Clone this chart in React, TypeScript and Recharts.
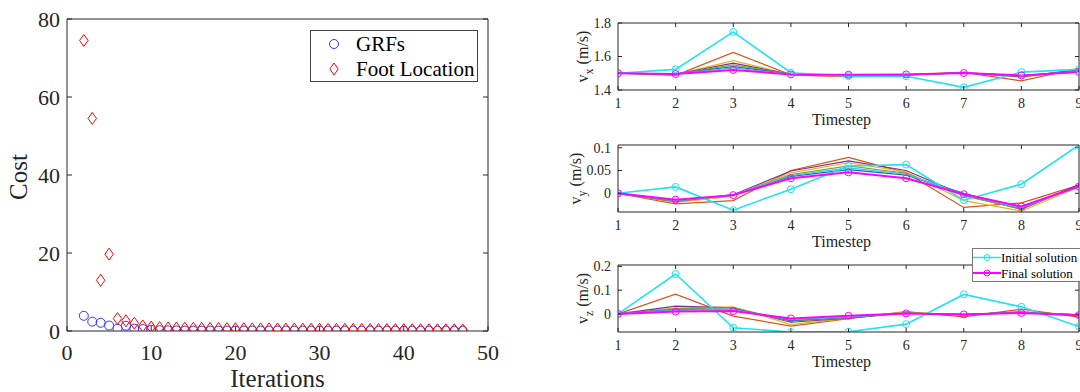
import React from "react";
import {
  ScatterChart,
  Scatter,
  LineChart,
  Line,
  XAxis,
  YAxis,
  Legend,
} from "recharts";

// ---- left panel: cost per iteration ----
const iterations = [
  2, 3, 4, 5, 6, 7, 8, 9, 10, 11, 12, 13, 14, 15, 16, 17, 18, 19, 20, 21, 22, 23, 24,
  25, 26, 27, 28, 29, 30, 31, 32, 33, 34, 35, 36, 37, 38, 39, 40, 41, 42, 43, 44, 45,
  46, 47,
];
const grfCost = [
  3.9, 2.4, 2.1, 1.4, 0.6, 1.35, 0.6, 0.5, 0.3, 0.2, 0.15, 0.12, 0.1, 0.1, 0.1, 0.1,
  0.1, 0.1, 0.1, 0.1, 0.1, 0.1, 0.1, 0.1, 0.1, 0.1, 0.1, 0.1, 0.1, 0.1, 0.1, 0.1, 0.1,
  0.1, 0.1, 0.1, 0.1, 0.1, 0.1, 0.1, 0.1, 0.1, 0.1, 0.1, 0.1, 0.1,
];
const footCost = [
  74.5, 54.5, 13.0, 19.7, 3.2, 2.6, 2.0, 1.3, 1.0, 0.85, 0.8, 0.75, 0.72, 0.7, 0.68,
  0.66, 0.64, 0.62, 0.6, 0.58, 0.56, 0.55, 0.53, 0.52, 0.5, 0.49, 0.48, 0.46, 0.45,
  0.44, 0.43, 0.42, 0.41, 0.4, 0.39, 0.38, 0.37, 0.36, 0.35, 0.34, 0.33, 0.32, 0.31,
  0.3, 0.28, 0.26,
];
const costXTicks = [0, 10, 20, 30, 40, 50];
const costYTicks = [0, 20, 40, 60, 80];

// ---- right panels: velocities per timestep ----
const timesteps = [1, 2, 3, 4, 5, 6, 7, 8, 9];
const stepTicks = [1, 2, 3, 4, 5, 6, 7, 8, 9];

const vxInitial = [1.5, 1.523, 1.747, 1.503, 1.483, 1.482, 1.416, 1.507, 1.523];
const vxIterates = [
  [1.5, 1.487, 1.624, 1.49, 1.478, 1.488, 1.505, 1.454, 1.53],
  [1.5, 1.492, 1.575, 1.492, 1.482, 1.49, 1.507, 1.475, 1.525],
  [1.5, 1.494, 1.56, 1.493, 1.485, 1.49, 1.503, 1.48, 1.52],
  [1.5, 1.495, 1.55, 1.494, 1.487, 1.491, 1.502, 1.483, 1.515],
  [1.5, 1.496, 1.54, 1.494, 1.488, 1.492, 1.502, 1.485, 1.512],
  [1.5, 1.496, 1.532, 1.494, 1.489, 1.492, 1.501, 1.486, 1.51],
];
const vxFinal = [1.5, 1.495, 1.52, 1.493, 1.491, 1.493, 1.501, 1.487, 1.508];
const vxTicks = [1.4, 1.6, 1.8];

const vyInitial = [0, 0.014, -0.037, 0.009, 0.06, 0.063, -0.015, 0.02, 0.106];
const vyIterates = [
  [0, -0.023, -0.016, 0.05, 0.079, 0.045, -0.031, -0.021, 0.018],
  [0, -0.02, -0.006, 0.045, 0.067, 0.047, -0.016, -0.039, 0.014],
  [0, -0.018, -0.003, 0.049, 0.071, 0.05, -0.004, -0.035, 0.019],
  [0, -0.017, -0.004, 0.041, 0.06, 0.044, -0.006, -0.034, 0.017],
  [0, -0.016, -0.004, 0.037, 0.052, 0.04, 0.0, -0.033, 0.017],
  [0, -0.016, -0.004, 0.039, 0.056, 0.042, -0.003, -0.032, 0.016],
];
const vyFinal = [0, -0.014, -0.004, 0.033, 0.046, 0.033, -0.002, -0.029, 0.015];
const vyTicks = [0, 0.05, 0.1];

const vzInitial = [0, 0.168, -0.058, -0.076, -0.075, -0.043, 0.082, 0.03, -0.053];
const vzIterates = [
  [0, 0.083, -0.009, -0.051, -0.02, 0.01, -0.012, 0.02, -0.013],
  [0, 0.025, 0.03, -0.045, -0.018, 0.008, -0.005, 0.01, -0.006],
  [0, 0.033, 0.026, -0.035, -0.018, 0.004, -0.003, 0.008, -0.004],
  [0, 0.022, 0.027, -0.03, -0.016, 0.004, -0.003, 0.007, -0.004],
  [0, 0.018, 0.02, -0.027, -0.015, 0.003, -0.002, 0.006, -0.004],
  [0, 0.016, 0.018, -0.024, -0.013, 0.003, -0.002, 0.005, -0.004],
];
const vzFinal = [0, 0.01, 0.012, -0.019, -0.008, 0.002, -0.002, 0.004, -0.005];
const vzTicks = [0, 0.1, 0.2];

const iterColors = ["#D95319", "#EDB120", "#7E2F8E", "#77AC30", "#0072BD", "#4DBEEE"];
const CYAN = "#1fe2f2";
const MAGENTA = "#ff00ff";
const INK = "#262626";
const FONT = "'Liberation Serif', 'Times New Roman', serif";

const EmptyTick = () => <g />;

const Circle = (props: any) => (
  <circle cx={props.cx} cy={props.cy} r={4.5} fill="none" stroke="#3333ff" strokeWidth={1} />
);
const Diamond = (props: any) => {
  const { cx, cy } = props;
  return (
    <path
      d={`M${cx},${cy - 6} L${cx + 4.2},${cy} L${cx},${cy + 6} L${cx - 4.2},${cy} Z`}
      fill="none"
      stroke="#ff0000"
      strokeWidth={1}
    />
  );
};

function CostLegend() {
  return (
    <div
      style={{
        width: 166,
        height: 50,
        border: "1px solid #444",
        background: "#fff",
        fontFamily: FONT,
        fontSize: 21,
        color: "#000",
        position: "relative",
      }}
    >
      <svg width={30} height={50} style={{ position: "absolute", left: 8, top: 0 }}>
        <circle cx={15} cy={13} r={4.5} fill="none" stroke="#3333ff" />
        <path d="M15,32 L19.2,38 L15,44 L10.8,38 Z" fill="none" stroke="#ff0000" />
      </svg>
      <div style={{ position: "absolute", left: 45, top: 1, lineHeight: "24px" }}>GRFs</div>
      <div style={{ position: "absolute", left: 45, top: 26, lineHeight: "24px" }}>
        Foot Location
      </div>
    </div>
  );
}

function SolutionLegend() {
  return (
    <div
      style={{
        width: 120,
        height: 32,
        border: "1px solid #777",
        background: "#fff",
        fontFamily: FONT,
        fontSize: 13,
        color: "#000",
        position: "relative",
      }}
    >
      <svg width={30} height={32} style={{ position: "absolute", left: 0, top: 0 }}>
        <line x1={0} x2={28} y1={8.5} y2={8.5} stroke={CYAN} strokeWidth={1.5} />
        <circle cx={14} cy={8.5} r={3} fill="none" stroke={CYAN} />
        <line x1={0} x2={28} y1={24} y2={24} stroke={MAGENTA} strokeWidth={2} />
        <circle cx={14} cy={24} r={3} fill="none" stroke={MAGENTA} />
      </svg>
      <div style={{ position: "absolute", left: 28, top: 0, lineHeight: "17px" }}>
        Initial solution
      </div>
      <div style={{ position: "absolute", left: 28, top: 15.5, lineHeight: "17px" }}>
        Final solution
      </div>
    </div>
  );
}

function CostChart() {
  const grfData = iterations.map((it, i) => ({ x: it, y: grfCost[i] }));
  const footData = iterations.map((it, i) => ({ x: it, y: footCost[i] }));
  const tickStyle = { fill: INK, fontSize: 22, fontFamily: FONT };
  return (
    <ScatterChart width={500} height={392} margin={{ top: 18, right: 11, left: 27, bottom: 0 }}>
      <XAxis
        dataKey="x"
        type="number"
        domain={[0, 50]}
        ticks={costXTicks}
        allowDataOverflow
        height={61}
        tick={tickStyle}
        tickSize={-5}
        tickMargin={18}
        axisLine={{ stroke: INK }}
        tickLine={{ stroke: INK }}
        label={{
          content: (p: any) => (
            <text
              x={p.viewBox.x + p.viewBox.width / 2}
              y={p.viewBox.y + 56}
              textAnchor="middle"
              fontFamily={FONT}
              fontSize={25}
              fill={INK}
            >
              Iterations
            </text>
          ),
        }}
      />
      <XAxis
        xAxisId="top"
        orientation="top"
        type="number"
        domain={[0, 50]}
        ticks={costXTicks}
        allowDataOverflow
        height={1}
        tick={EmptyTick}
        tickSize={-5}
        axisLine={{ stroke: INK }}
        tickLine={{ stroke: INK }}
      />
      <YAxis
        dataKey="y"
        type="number"
        domain={[0, 80]}
        ticks={costYTicks}
        allowDataOverflow
        width={40}
        tick={tickStyle}
        tickSize={-5}
        tickMargin={12}
        axisLine={{ stroke: INK }}
        tickLine={{ stroke: INK }}
        label={{
          content: (p: any) => {
            const bx = 27;
            const cy = p.viewBox.y + p.viewBox.height / 2 + 2;
            return (
              <text
                x={bx}
                y={cy}
                transform={`rotate(-90 ${bx} ${cy})`}
                textAnchor="middle"
                fontFamily={FONT}
                fontSize={25}
                fill={INK}
              >
                Cost
              </text>
            );
          },
        }}
      />
      <YAxis
        yAxisId="right"
        orientation="right"
        type="number"
        domain={[0, 80]}
        ticks={costYTicks}
        allowDataOverflow
        width={1}
        tick={EmptyTick}
        tickSize={-5}
        axisLine={{ stroke: INK }}
        tickLine={{ stroke: INK }}
      />
      <Scatter name="GRFs" data={grfData} shape={Circle} isAnimationActive={false} />
      <Scatter name="Foot Location" data={footData} shape={Diamond} isAnimationActive={false} />
      <Legend
        layout="horizontal"
        verticalAlign="middle"
        align="center"
        wrapperStyle={{ left: 310, top: 30, width: 168, height: 52 }}
        content={() => <CostLegend />}
      />
    </ScatterChart>
  );
}

type PanelProps = {
  top: number;
  initial: number[];
  iterates: number[][];
  final: number[];
  domain: [number, number];
  ticks: number[];
  sub: string;
  labelX: number;
  legend?: boolean;
};

function VelocityPanel({ top, initial, iterates, final, domain, ticks, sub, labelX, legend }: PanelProps) {
  const data = timesteps.map((t, i) => {
    const row: Record<string, number> = { t, initial: initial[i], final: final[i] };
    iterates.forEach((s, k) => {
      row[`it${k}`] = s[i];
    });
    return row;
  });
  const tickStyle = { fill: INK, fontSize: 14, fontFamily: FONT };
  return (
    <div style={{ position: "absolute", left: 560, top }}>
      <LineChart width={530} height={130} data={data} margin={{ top: 22, right: 10, left: 8, bottom: 0 }}>
        <XAxis
          dataKey="t"
          type="number"
          domain={[1, 9]}
          ticks={stepTicks}
          allowDataOverflow
          height={40}
          tick={tickStyle}
          tickSize={-4}
          tickMargin={12}
          axisLine={{ stroke: INK }}
          tickLine={{ stroke: INK }}
          label={{
            content: (p: any) => (
              <text
                x={p.viewBox.x + p.viewBox.width / 2 - 7}
                y={p.viewBox.y + 35}
                textAnchor="middle"
                fontFamily={FONT}
                fontSize={16}
                fill={INK}
              >
                Timestep
              </text>
            ),
          }}
        />
        <XAxis
          xAxisId="top"
          orientation="top"
          type="number"
          domain={[1, 9]}
          ticks={stepTicks}
          allowDataOverflow
          height={1}
          tick={EmptyTick}
          tickSize={-4}
          axisLine={{ stroke: INK }}
          tickLine={{ stroke: INK }}
        />
        <YAxis
          type="number"
          domain={domain}
          ticks={ticks}
          allowDataOverflow
          width={50}
          tick={tickStyle}
          tickSize={-4}
          tickMargin={11}
          axisLine={{ stroke: INK }}
          tickLine={{ stroke: INK }}
          label={{
            content: (p: any) => {
              const bx = labelX;
              const cy = p.viewBox.y + p.viewBox.height / 2;
              return (
                <text
                  x={bx}
                  y={cy}
                  transform={`rotate(-90 ${bx} ${cy})`}
                  textAnchor="middle"
                  fontFamily={FONT}
                  fontSize={16}
                  fill={INK}
                >
                  v
                  <tspan dy={5} fontSize={12}>
                    {sub}
                  </tspan>
                  <tspan dy={-5}> (m/s)</tspan>
                </text>
              );
            },
          }}
        />
        <YAxis
          yAxisId="right"
          orientation="right"
          type="number"
          domain={domain}
          ticks={ticks}
          allowDataOverflow
          width={1}
          tick={EmptyTick}
          tickSize={-4}
          axisLine={{ stroke: INK }}
          tickLine={{ stroke: INK }}
        />
        {iterates.map((_, k) => (
          <Line
            key={k}
            dataKey={`it${k}`}
            type="linear"
            stroke={iterColors[k % iterColors.length]}
            strokeWidth={1.2}
            dot={false}
            isAnimationActive={false}
          />
        ))}
        <Line
          dataKey="initial"
          type="linear"
          stroke={CYAN}
          strokeWidth={1.6}
          dot={{ r: 3.5, fill: "none", stroke: CYAN, strokeWidth: 1 }}
          isAnimationActive={false}
        />
        <Line
          dataKey="final"
          type="linear"
          stroke={MAGENTA}
          strokeWidth={2}
          dot={{ r: 3.5, fill: "none", stroke: MAGENTA, strokeWidth: 1 }}
          isAnimationActive={false}
        />
        {legend && (
          <Legend
            layout="horizontal"
            verticalAlign="middle"
            align="center"
            wrapperStyle={{ left: 412, top: 6, width: 122, height: 34 }}
            content={() => <SolutionLegend />}
          />
        )}
      </LineChart>
    </div>
  );
}

export default function App() {
  return (
    <div
      style={{
        position: "fixed",
        left: 0,
        top: 0,
        width: 1080,
        height: 392,
        overflow: "hidden",
        background: "#fff",
      }}
    >
      <div style={{ position: "absolute", left: 0, top: 0 }}>
        <CostChart />
      </div>
      <VelocityPanel top={0} initial={vxInitial} iterates={vxIterates} final={vxFinal} domain={[1.4, 1.8]} ticks={vxTicks} sub="x" labelX={28} />
      <VelocityPanel top={122} initial={vyInitial} iterates={vyIterates} final={vyFinal} domain={[-0.041, 0.106]} ticks={vyTicks} sub="y" labelX={21} />
      <VelocityPanel top={242} initial={vzInitial} iterates={vzIterates} final={vzFinal} domain={[-0.076, 0.206]} ticks={vzTicks} sub="z" labelX={28} legend />
    </div>
  );
}
